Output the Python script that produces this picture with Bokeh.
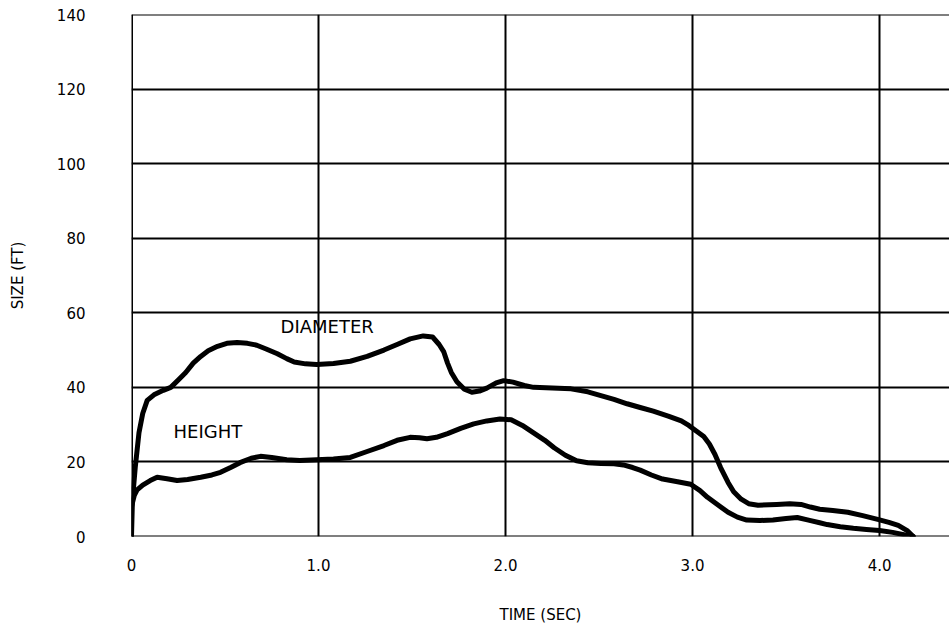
from bokeh.plotting import figure
from bokeh.models import Range1d, FixedTicker, Label, Span
from bokeh.embed import file_html
from bokeh.resources import INLINE

# Data
time_diameter = [0, 0.005, 0.02, 0.04, 0.06, 0.084, 0.12, 0.17, 0.21, 0.25, 0.29, 0.33, 0.37,
                 0.41, 0.46, 0.51, 0.565, 0.62, 0.67, 0.72, 0.78, 0.83, 0.87, 0.93, 0.99, 1.08,
                 1.17, 1.26, 1.35, 1.42, 1.49, 1.56, 1.61, 1.645, 1.67, 1.69, 1.71, 1.74, 1.78,
                 1.82, 1.86, 1.90, 1.95, 1.99, 2.04, 2.10, 2.15, 2.25, 2.35, 2.44, 2.51, 2.58,
                 2.65, 2.72, 2.79, 2.87, 2.94, 2.98, 3.02, 3.06, 3.09, 3.12, 3.15, 3.19, 3.22,
                 3.26, 3.30, 3.35, 3.45, 3.52, 3.58, 3.63, 3.68, 3.75, 3.83, 3.91, 3.99, 4.05,
                 4.1, 4.15, 4.18]
diameter = [0, 9.7, 18.5, 27.8, 33, 36.5, 38, 39.2, 40, 42, 44, 46.5, 48.3,
            49.8, 51, 51.8, 52, 51.8, 51.3, 50.3, 49, 47.7, 46.8, 46.3, 46.1, 46.4,
            47, 48.3, 50, 51.5, 53, 53.8, 53.5, 51.5, 49.5, 46.5, 44, 41.5, 39.5,
            38.7, 39, 39.8, 41.2, 41.8, 41.4, 40.5, 40, 39.8, 39.6, 38.8, 37.8, 36.8,
            35.6, 34.6, 33.6, 32.3, 31, 29.8, 28.3, 26.8, 24.8, 22, 18.5, 14.5, 12,
            10, 8.8, 8.4, 8.6, 8.8, 8.6, 7.9, 7.3, 7, 6.5, 5.6, 4.6, 3.8,
            3, 1.5, 0]

time_height = [0, 0, 0.015, 0.03, 0.06, 0.1, 0.137, 0.19, 0.244, 0.3, 0.37, 0.43, 0.476,
               0.53, 0.58, 0.64, 0.69, 0.75, 0.83, 0.9, 0.99, 1.08, 1.17, 1.26, 1.35, 1.42,
               1.49, 1.54, 1.58, 1.63, 1.69, 1.76, 1.83, 1.90, 1.97, 2.03, 2.09, 2.15, 2.21,
               2.26, 2.32, 2.38, 2.44, 2.51, 2.58, 2.63, 2.68, 2.72, 2.78, 2.84, 2.92, 2.99,
               3.04, 3.08, 3.14, 3.19, 3.24, 3.29, 3.36, 3.43, 3.5, 3.56, 3.62, 3.68, 3.72,
               3.79, 3.86, 3.93, 4.0, 4.07, 4.13, 4.18]
height = [0, 8, 11, 12.5, 13.8, 15, 15.9, 15.5, 15, 15.3, 15.9, 16.5, 17.2,
          18.5, 19.8, 21, 21.5, 21.2, 20.6, 20.4, 20.6, 20.8, 21.2, 22.8, 24.4, 25.8,
          26.6, 26.5, 26.2, 26.6, 27.6, 29, 30.2, 31, 31.5, 31.3, 29.8, 27.8, 25.8,
          23.8, 21.8, 20.3, 19.8, 19.6, 19.5, 19.2, 18.5, 17.8, 16.5, 15.4, 14.7, 14,
          12.3, 10.5, 8.3, 6.5, 5.2, 4.4, 4.3, 4.4, 4.8, 5.1, 4.4, 3.7, 3.2,
          2.6, 2.2, 1.9, 1.6, 1.1, 0.5, 0]

x_ticks = [0, 1, 2, 3, 4]
x_tick_labels = ["0", "1.0", "2.0", "3.0", "4.0"]
y_ticks = [0, 20, 40, 60, 80, 100, 120, 140]

FONT = "DejaVu Sans"

p = figure(width=949, height=632, output_backend="svg", toolbar_location=None,
           x_range=Range1d(0, 4.374), y_range=Range1d(0, 140),
           min_border_left=131, min_border_right=0, min_border_top=14, min_border_bottom=96)
p.outline_line_color = None
p.background_fill_color = "white"
p.border_fill_color = "white"

p.xaxis.ticker = FixedTicker(ticks=x_ticks)
p.xaxis.major_label_overrides = {t: l for t, l in zip(x_ticks, x_tick_labels)}
p.yaxis.ticker = FixedTicker(ticks=y_ticks)

for ax in (p.xaxis, p.yaxis):
    ax.axis_line_color = None
    ax.major_tick_line_color = None
    ax.minor_tick_line_color = None
    ax.major_label_text_font = FONT
    ax.major_label_text_font_size = "15px"
    ax.major_label_text_color = "black"
    ax.axis_label_text_font = FONT
    ax.axis_label_text_font_size = "15px"
    ax.axis_label_text_font_style = "normal"
    ax.axis_label_text_color = "black"

p.xaxis.major_label_standoff = 16
p.yaxis.major_label_standoff = 40
p.xaxis.axis_label = "TIME (SEC)"
p.xaxis.axis_label_standoff = 32
p.yaxis.axis_label = "SIZE (FT)"
p.yaxis.axis_label_standoff = 27

p.xgrid.ticker = FixedTicker(ticks=x_ticks)
p.ygrid.ticker = FixedTicker(ticks=y_ticks)
for g in (p.xgrid, p.ygrid):
    g.grid_line_color = "black"
    g.grid_line_width = 2
    g.grid_line_alpha = 1

# frame edges (left, bottom, top lines of the chart grid)
p.add_layout(Span(location=0, dimension="height", line_color="black", line_width=3))
p.add_layout(Span(location=0, dimension="width", line_color="black", line_width=2))
p.add_layout(Span(location=140, dimension="width", line_color="black", line_width=2))

p.line(time_diameter, diameter, line_color="black", line_width=5,
       line_join="round", line_cap="round")
p.line(time_height, height, line_color="black", line_width=5,
       line_join="round", line_cap="round")

p.add_layout(Label(x=0.797, y=53.6, text="DIAMETER", text_font=FONT,
                   text_font_size="18px", text_color="black"))
p.add_layout(Label(x=0.225, y=25.3, text="HEIGHT", text_font=FONT,
                   text_font_size="18px", text_color="black"))

open("out.html", "w").write(file_html(p, INLINE))
